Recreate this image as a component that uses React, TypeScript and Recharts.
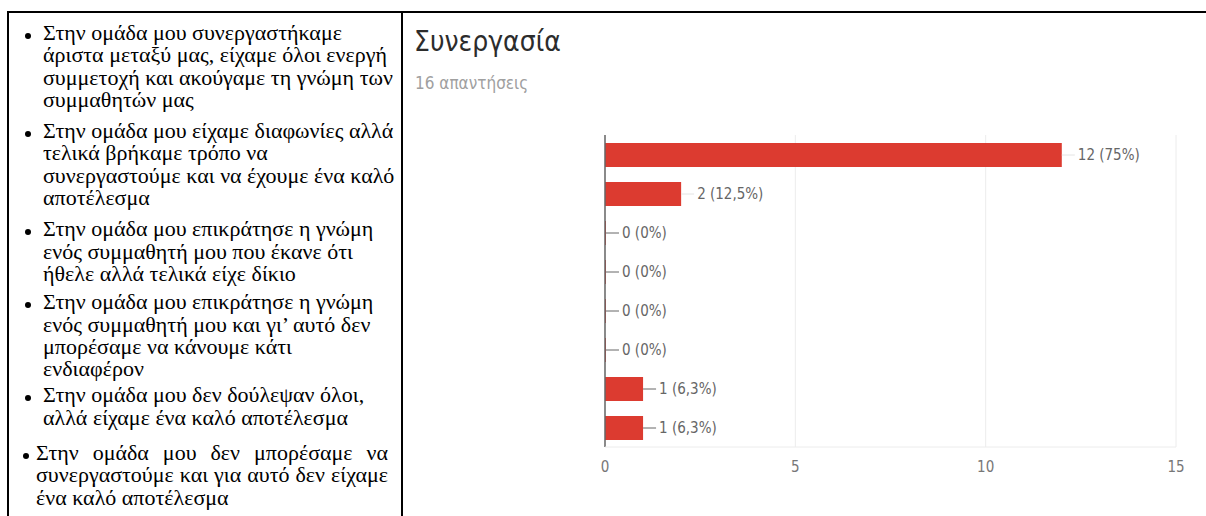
import React from "react";
import {
  BarChart,
  Bar,
  XAxis,
  YAxis,
  CartesianGrid,
  LabelList,
  ReferenceLine,
} from "recharts";

// ---- chart data ----
const categories = ["1", "2", "3", "4", "5", "6", "7", "8"];
const counts = [12, 2, 0, 0, 0, 0, 1, 1];
const percentLabels = ["75%", "12,5%", "0%", "0%", "0%", "0%", "6,3%", "6,3%"];
const xTicks = [0, 5, 10, 15];
const chartTitle = "Συνεργασία";
const chartSubtitle = "16 απαντήσεις";

// ---- left column text ----
const item1 = [
  "Στην ομάδα μου συνεργαστήκαμε",
  "άριστα μεταξύ μας, είχαμε όλοι ενεργή",
  "συμμετοχή και ακούγαμε τη γνώμη των",
  "συμμαθητών μας",
];
const item2 = [
  "Στην ομάδα μου είχαμε διαφωνίες αλλά",
  "τελικά βρήκαμε τρόπο να",
  "συνεργαστούμε και να έχουμε ένα καλό",
  "αποτέλεσμα",
];
const item3 = [
  "Στην ομάδα μου επικράτησε η γνώμη",
  "ενός συμμαθητή μου που έκανε ότι",
  "ήθελε αλλά τελικά είχε δίκιο",
];
const item4 = [
  "Στην ομάδα μου επικράτησε η γνώμη",
  "ενός συμμαθητή μου και γι’ αυτό δεν",
  "μπορέσαμε να κάνουμε κάτι",
  "ενδιαφέρον",
];
const item5 = [
  "Στην ομάδα μου δεν δούλεψαν όλοι,",
  "αλλά είχαμε ένα καλό αποτέλεσμα",
];
const item6 = [
  "Στην ομάδα μου δεν μπορέσαμε να",
  "συνεργαστούμε και για αυτό δεν είχαμε",
  "ένα καλό αποτέλεσμα",
];
const items = [item1, item2, item3, item4, item5, item6];
const itemGaps = [0, 9, 9, 6, 4, 13];

const data = categories.map((c, i) => ({
  category: c,
  value: counts[i],
  label: `${counts[i]} (${percentLabels[i]})`,
}));

const NARROW =
  "'Liberation Sans Narrow', 'DejaVu Sans Condensed', 'Roboto Condensed', Roboto, sans-serif";
const SERIF = "'Liberation Serif', 'Times New Roman', serif";
const LINE_H = 22.3;
const SCALE_X = 1.1;

const ValueLabel = (props: any) => {
  const { x, y, width, height, value } = props;
  const w = Number(width);
  const xe = Number(x) + w;
  const cy = Number(y) + Number(height) / 2;
  const dashColor = w < 50 ? "#666" : "#e4e4e4";
  return (
    <g>
      <line x1={xe} y1={cy} x2={xe + 13} y2={cy} stroke={dashColor} strokeWidth={1} />
      <text
        x={xe + 16}
        y={cy}
        dominantBaseline="central"
        fill="#666"
        fontSize={15}
        fontFamily={NARROW}
      >
        {value}
      </text>
    </g>
  );
};

export default function App() {
  return (
    <div
      style={{
        position: "absolute",
        left: 0,
        top: 0,
        width: 1206,
        height: 516,
        background: "#fff",
        overflow: "hidden",
      }}
    >
      {/* table borders */}
      <div style={{ position: "absolute", left: 7, top: 11, width: 1199, height: 2, background: "#000" }} />
      <div style={{ position: "absolute", left: 7, top: 11, width: 2, height: 505, background: "#000" }} />
      <div style={{ position: "absolute", left: 401, top: 11, width: 2, height: 505, background: "#000" }} />

      {/* left column list */}
      <div
        style={{
          position: "absolute",
          left: 0,
          top: 22,
          width: 400,
          fontFamily: SERIF,
          fontSize: 20,
          color: "#000",
        }}
      >
        {items.map((lines, ii) => {
          const last = ii === items.length - 1;
          return (
            <div key={ii} style={{ position: "relative", marginTop: itemGaps[ii] }}>
              <div
                style={{
                  position: "absolute",
                  left: last ? 23 : 25,
                  top: 10.5,
                  width: 6,
                  height: 6,
                  borderRadius: 3,
                  background: "#000",
                }}
              />
              {lines.map((ln, li) => {
                const just = last && li < lines.length - 1;
                return (
                  <div
                    key={li}
                    style={{
                      height: LINE_H,
                      lineHeight: `${LINE_H}px`,
                      whiteSpace: "nowrap",
                      marginLeft: last ? 36 : 43,
                      width: just ? 352 / SCALE_X : 320,
                      textAlign: just ? "justify" : "left",
                      textAlignLast: just ? "justify" : "left",
                      transform: `scaleX(${SCALE_X})`,
                      transformOrigin: "left center",
                    } as React.CSSProperties}
                  >
                    {ln}
                  </div>
                );
              })}
            </div>
          );
        })}
      </div>

      {/* chart title */}
      <div
        style={{
          position: "absolute",
          left: 414,
          top: 26,
          fontFamily: NARROW,
          fontSize: 28,
          color: "#2c2c2c",
          whiteSpace: "nowrap",
          lineHeight: "32px",
        }}
      >
        {chartTitle}
      </div>
      <div
        style={{
          position: "absolute",
          left: 415,
          top: 73,
          fontFamily: NARROW,
          fontSize: 17,
          color: "#a0a0a0",
          whiteSpace: "nowrap",
          lineHeight: "20px",
        }}
      >
        {chartSubtitle}
      </div>

      {/* chart */}
      <div style={{ position: "absolute", left: 0, top: 0, width: 1187, height: 516, overflow: "hidden" }}>
        <BarChart
          width={1206}
          height={516}
          data={data}
          layout="vertical"
          margin={{ top: 135, right: 30, bottom: 39, left: 605 }}
          barCategoryGap={15}
        >
          <CartesianGrid horizontal={false} stroke="#ececec" />
          <XAxis
            type="number"
            domain={[0, 15]}
            ticks={xTicks}
            height={30}
            axisLine={{ stroke: "#ececec" }}
            tickLine={false}
            tickMargin={8}
            tick={{ fill: "#777", fontSize: 15, fontFamily: NARROW }}
            interval={0}
          />
          <YAxis type="category" dataKey="category" hide />
          <Bar dataKey="value" fill="#DC3B30" barSize={24} minPointSize={1} isAnimationActive={false}>
            <LabelList dataKey="label" content={ValueLabel} />
          </Bar>
          <ReferenceLine x={0} stroke="#666" strokeWidth={1.5} />
        </BarChart>
      </div>
    </div>
  );
}
